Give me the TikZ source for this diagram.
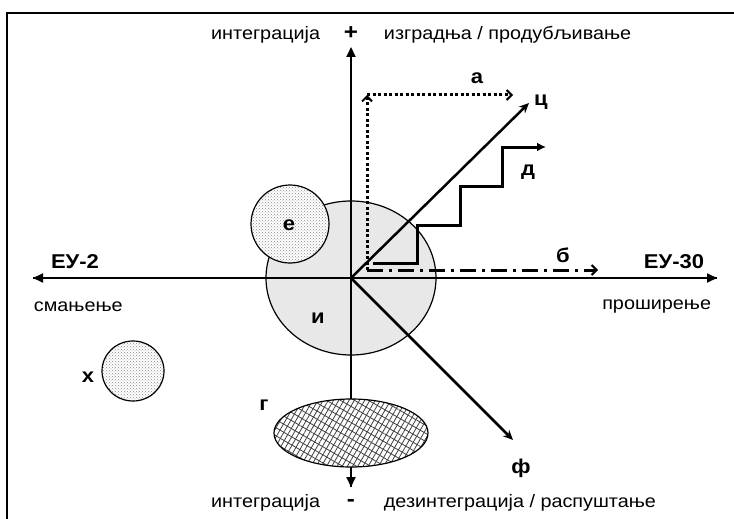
\documentclass[tikz,border=0pt]{standalone}
\usepackage{fontspec}
\setmainfont{Liberation Sans}[FakeStretch=1.1]
\usetikzlibrary{arrows.meta,patterns,patterns.meta}

\begin{document}
\begin{tikzpicture}[x=1pt,y=-1pt,line width=1.2pt,>={Triangle[length=10pt,width=9pt]},
  tekst/.style={font=\fontsize{18}{20}\selectfont},
  slovo/.style={font=\bfseries\fontsize{20}{22}\selectfont},
  osa/.style={line width=2pt,->},
  tacke/.style={line width=3pt,dash pattern=on 3pt off 2.5pt,-{Straight Barb[length=5pt,width=10pt,line width=2pt]}},
  crtatacka/.style={line width=3pt,dash pattern=on 16pt off 6pt on 3pt off 6pt,-{Straight Barb[length=5pt,width=10pt,line width=2pt]}},
  puna/.style={line width=2.5pt,-{Stealth[length=10pt,width=9pt]}},
  tackasto/.style={draw,line width=1.2pt,preaction={fill=white},pattern=crosshatch dots,pattern color=black!45},
  mreza/.style={draw,line width=1.2pt,preaction={fill=white},
    preaction={pattern={Lines[angle=60,distance=4.5pt,line width=0.8pt]},pattern color=black!75},
    pattern={Lines[angle=-30,distance=7pt,line width=0.8pt]},pattern color=black!75}]
  \useasboundingbox (0,0) rectangle (734,519);
  % okvir
  \draw[line width=2.2pt] (7,519)--(7,13)--(734,13);
  % velika oblast
  \fill[black!9] (351,278) ellipse [x radius=85,y radius=77];
  \draw (351,278) ellipse [x radius=85,y radius=77];
  % ose
  \coordinate (O) at (351,278);
  \coordinate (gore) at (351,47);
  \coordinate (dole) at (351,487);
  \coordinate (levo) at (33,278);
  \coordinate (desno) at (717,278);
  \draw[osa] (dole)--(gore);
  \draw[osa] (O)--(dole);
  \draw[osa] (desno)--(levo);
  \draw[osa] (levo)--(desno);
  % oblasti
  \path[tackasto] (290,224) circle [radius=39];
  \path[tackasto] (133,371) ellipse [x radius=31,y radius=30];
  \path[mreza] (351,433) ellipse [x radius=77,y radius=34];
  % putanje
  \coordinate (a0) at (367,270);
  \coordinate (a1) at (367,95);
  \coordinate (a2) at (513,95);
  \coordinate (b1) at (598,270);
  \coordinate (c1) at (529,103);
  \coordinate (f1) at (513,440);
  \coordinate (d1) at (546,147);
  \draw[tacke] (a0)--(a1);
  \draw[tacke] (a1)--(a2);
  \draw[crtatacka] (a0)--(b1);
  \draw[puna] (O)--(c1);
  \draw[puna] (O)--(f1);
  \draw[line width=3pt,-{Latex[length=9pt,width=9pt]}] (373,263)-|(417,225)-|(460,186)-|(502,147)--(d1);
  % natpisi
  \node[tekst,anchor=east] (int1) at (324,35) {интеграција};
  \node[font=\bfseries\fontsize{22}{22}\selectfont] (plus) at (351,33) {+};
  \node[tekst,anchor=west] (izg) at (380,35) {изградња / продубљивање};
  \node[tekst,anchor=east] (int2) at (324,503) {интеграција};
  \node[font=\bfseries\fontsize{22}{22}\selectfont] (minus) at (351,503) {-};
  \node[tekst,anchor=west] (dez) at (380,503) {дезинтеграција / распуштање};
  \node[tekst,anchor=west] (sma) at (30,307) {смањење};
  \node[tekst,anchor=east] (pro) at (715,307) {проширење};
  \node[slovo] (eu2) at (75,262) {ЕУ-2};
  \node[slovo] (eu30) at (674,262) {ЕУ-30};
  \node[slovo] (la) at (477,78) {а};
  \node[slovo] (lb) at (563,255) {б};
  \node[slovo] (lc) at (541,102) {ц};
  \node[slovo] (ld) at (528,172) {д};
  \node[slovo] (le) at (289,225) {е};
  \node[slovo] (lf) at (521,468) {ф};
  \node[slovo] (lg) at (264,405) {г};
  \node[slovo] (lh) at (88,377) {х};
  \node[slovo] (li) at (318,318) {и};
\end{tikzpicture}
\end{document}
